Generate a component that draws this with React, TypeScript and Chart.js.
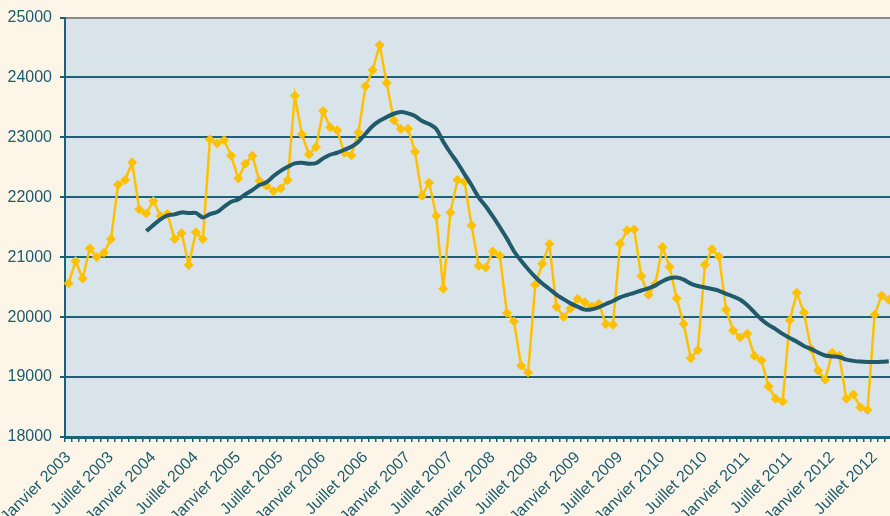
import React, { useEffect, useRef } from 'react';
import { Chart, registerables } from 'chart.js';

Chart.register(...registerables);

const MONTH_NAMES = ['Janvier', 'Février', 'Mars', 'Avril', 'Mai', 'Juin', 'Juillet', 'Août', 'Septembre', 'Octobre', 'Novembre', 'Décembre'];
const YEARS = [2003, 2004, 2005, 2006, 2007, 2008, 2009, 2010, 2011, 2012];
const categories: string[] = [];
YEARS.forEach((y) => MONTH_NAMES.forEach((m) => categories.push(`${m} ${y}`)));

// Monthly values (Jan 2003 - Sep 2012)
const monthlyValues = [
  20563, 20935, 20646, 21147, 21002, 21074, 21302, 22209, 22287, 22583, 21798, 21731,
  21937, 21686, 21720, 21302, 21402, 20870, 21416, 21302, 22967, 22900, 22955, 22693,
  22316, 22560, 22693, 22276, 22192, 22103, 22148, 22287, 23695, 23050, 22716, 22838,
  23439, 23167, 23117, 22743, 22700, 23083, 23851, 24124, 24541, 23908, 23284, 23139,
  23144, 22758, 22024, 22244, 21690, 20475, 21745, 22288, 22260, 21530, 20858, 20830,
  21097, 21025, 20069, 19930, 19190, 19078, 20539, 20890, 21219, 20172, 20006, 20145,
  20306, 20250, 20178, 20222, 19883, 19872, 21224, 21452, 21462, 20685, 20372, 20557,
  21169, 20840, 20313, 19883, 19316, 19449, 20873, 21135, 21012, 20122, 19778, 19661,
  19723, 19356, 19278, 18844, 18639, 18594, 19950, 20406, 20078, 19477, 19110, 18955,
  19406, 19356, 18639, 18711, 18494, 18450, 20038, 20360, 20290,
];

// Moving average (starts Dec 2003)
const movingAverage = [
  null, null, null, null, null, null, null, null, null, null, null, 21436,
  21536, 21630, 21698, 21715, 21748, 21736, 21740, 21664, 21720, 21753, 21842, 21925,
  21965, 22048, 22120, 22204, 22250, 22354, 22442, 22509, 22566, 22576, 22559, 22570,
  22649, 22710, 22743, 22793, 22843, 22927, 23060, 23189, 23277, 23339, 23394, 23422,
  23400, 23356, 23272, 23222, 23139, 22927, 22743, 22576, 22387, 22200, 22000, 21850,
  21680, 21500, 21310, 21100, 20940, 20800, 20670, 20560, 20470, 20376, 20300, 20230,
  20175, 20125, 20130, 20165, 20220, 20270, 20330, 20370, 20405, 20445, 20480, 20530,
  20600, 20650, 20660, 20625, 20560, 20520, 20495, 20470, 20440, 20390, 20345, 20290,
  20200, 20080, 19960, 19870, 19800, 19720, 19650, 19590, 19520, 19470, 19410, 19360,
  19345, 19335, 19290, 19270, 19258, 19252, 19250, 19255, 19265,
];

const Y_MIN = 18000;
const Y_MAX = 25000;
const Y_STEP = 1000;

const TEAL = '#1d5c6e';
const GRID = '#1a6377';
const FONT = "'Liberation Sans Narrow', 'Arial Narrow', 'Liberation Sans', sans-serif";

const plotBg = {
  id: 'plotBg',
  beforeDraw(chart: any) {
    const { ctx, chartArea } = chart;
    if (!chartArea) return;
    ctx.save();
    ctx.fillStyle = '#d8e4ea';
    ctx.fillRect(chartArea.left, chartArea.top, chartArea.right - chartArea.left, chartArea.bottom - chartArea.top);
    ctx.restore();
  },
};

export default function App() {
  const ref = useRef<HTMLCanvasElement | null>(null);

  useEffect(() => {
    if (!ref.current) return;
    const chart = new Chart(ref.current, {
      type: 'line',
      data: {
        labels: categories,
        datasets: [
          {
            label: 'Mensuel',
            data: monthlyValues,
            borderColor: '#ffc000',
            backgroundColor: '#ffc000',
            borderWidth: 2.5,
            pointStyle: 'rectRot',
            pointRadius: 4.5,
            pointBorderWidth: 1,
            pointBackgroundColor: '#ffc000',
            pointBorderColor: '#ffc000',
            tension: 0,
            order: 2,
          },
          {
            label: 'Moyenne mobile',
            data: movingAverage,
            borderColor: '#215a6a',
            borderWidth: 4,
            pointRadius: 0,
            tension: 0.3,
            spanGaps: false,
            order: 1,
          },
        ],
      },
      options: {
        responsive: false,
        animation: false,
        devicePixelRatio: 1,
        layout: { padding: { top: 17.5, left: 0, right: 0, bottom: 0 } },
        plugins: {
          legend: { display: false },
          tooltip: { enabled: false },
          title: { display: false },
        },
        scales: {
          x: {
            type: 'category',
            offset: true,
            grid: {
              display: true,
              offset: true,
              drawOnChartArea: false,
              drawTicks: true,
              tickLength: 5,
              color: GRID,
              lineWidth: 1.5,
            },
            border: { display: true, color: GRID, width: 3 },
            ticks: {
              autoSkip: false,
              maxRotation: 45,
              minRotation: 45,
              padding: 6,
              color: TEAL,
              font: { family: FONT, size: 16 },
              callback: (_v: any, i: number) => (i % 6 === 0 ? categories[i] : ''),
            },
            afterFit: (scale: any) => {
              scale.height = 79;
              scale.paddingLeft = 0;
              scale.paddingRight = 0;
            },
          },
          y: {
            min: Y_MIN,
            max: Y_MAX,
            ticks: {
              stepSize: Y_STEP,
              padding: 8,
              color: TEAL,
              font: { family: FONT, size: 16 },
              callback: (v: any) => String(v),
            },
            grid: {
              color: (c: any) => (c.tick && c.tick.value === Y_MAX ? '#8a8a8a' : GRID),
              tickColor: GRID,
              lineWidth: 2,
              tickLength: 5,
            },
            border: { display: true, color: GRID, width: 2 },
            afterFit: (scale: any) => {
              scale.width = 65;
              scale.paddingTop = 0;
              scale.paddingBottom = 0;
            },
          },
        },
      },
      plugins: [plotBg],
    });
    return () => chart.destroy();
  }, []);

  return (
    <div
      style={{
        position: 'fixed',
        left: 0,
        top: 0,
        width: 890,
        height: 516,
        overflow: 'hidden',
        background: '#fdf6e8',
      }}
    >
      <canvas ref={ref} width={919} height={516} style={{ display: 'block' }} />
    </div>
  );
}
